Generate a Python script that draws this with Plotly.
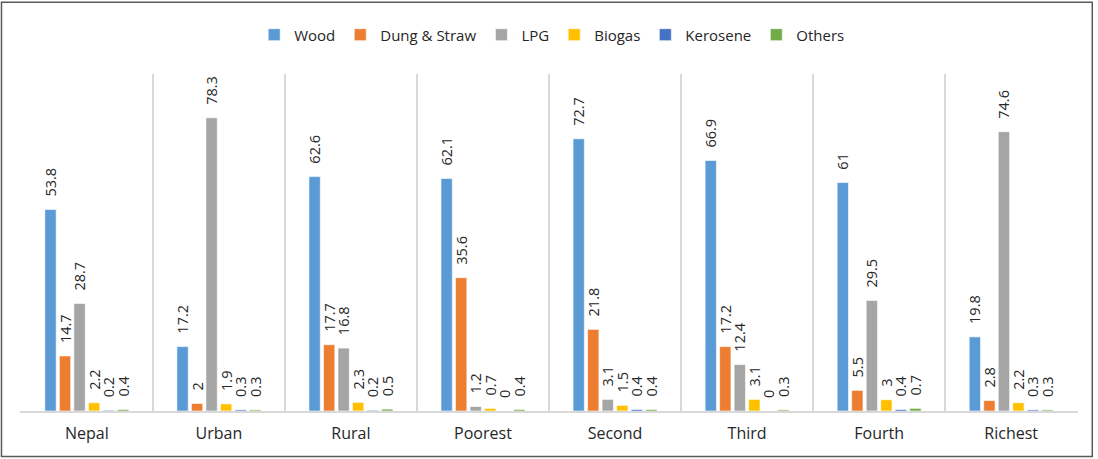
import plotly.graph_objects as go

categories = ["Nepal", "Urban", "Rural", "Poorest", "Second", "Third", "Fourth", "Richest"]
wood = [53.8, 17.2, 62.6, 62.1, 72.7, 66.9, 61, 19.8]
dung_straw = [14.7, 2, 17.7, 35.6, 21.8, 17.2, 5.5, 2.8]
lpg = [28.7, 78.3, 16.8, 1.2, 3.1, 12.4, 29.5, 74.6]
biogas = [2.2, 1.9, 2.3, 0.7, 1.5, 3.1, 3, 2.2]
kerosene = [0.2, 0.3, 0.2, 0, 0.4, 0, 0.4, 0.3]
others = [0.4, 0.3, 0.5, 0.4, 0.4, 0.3, 0.7, 0.3]

series = [
    ("Wood", wood, "#5B9BD5"),
    ("Dung & Straw", dung_straw, "#ED7D31"),
    ("LPG", lpg, "#A5A5A5"),
    ("Biogas", biogas, "#FFC000"),
    ("Kerosene", kerosene, "#4472C4"),
    ("Others", others, "#70AD47"),
]

font = "'Open Sans', sans-serif"
# non-breaking spaces in front of each label give the gap between bar top and text
pad = "\u00a0\u00a0\u2009"

fig = go.Figure()
for name, vals, col in series:
    fig.add_trace(go.Bar(
        x=categories, y=vals, name=name,
        marker=dict(color=col, line=dict(color="white", width=0.6)),
        text=[pad + str(v) for v in vals],
        textposition="outside", textangle=-90,
        textfont=dict(size=14.5, color="#262626", family=font),
        cliponaxis=False,
        hovertemplate="%{x}: %{y}<extra>" + name + "</extra>",
    ))

fig.update_layout(
    width=1098, height=459,
    barmode="group", bargap=0.34, bargroupgap=0.22,
    plot_bgcolor="white", paper_bgcolor="white",
    margin=dict(l=20, r=20, t=74, b=48, autoexpand=False),
    font=dict(family=font, color="#262626"),
    showlegend=True,
    legend=dict(orientation="h", x=0.503, xanchor="center", y=1.116, yanchor="middle",
                font=dict(size=15, color="#262626"), itemwidth=30,
                traceorder="normal"),
    uniformtext=dict(minsize=12, mode="show"),
    shapes=[dict(type="rect", xref="paper", yref="paper",
                 x0=-0.0175, x1=1.0135, y0=-0.135, y1=1.213,
                 line=dict(color="#595959", width=1.5))],
)
fig.update_xaxes(
    range=[-0.506, 7.506],
    tickson="boundaries", showgrid=True, gridcolor="#D9D9D9", gridwidth=1.5,
    showline=True, linecolor="#D9D9D9", linewidth=1.5,
    ticks="", tickfont=dict(size=16, color="#262626"), ticklen=0,
    ticklabelstandoff=7,
)
fig.update_yaxes(range=[0, 90], visible=False)

fig.write_html("out.html", config={"displayModeBar": False},
               post_script="document.body.style.margin='0px';")
